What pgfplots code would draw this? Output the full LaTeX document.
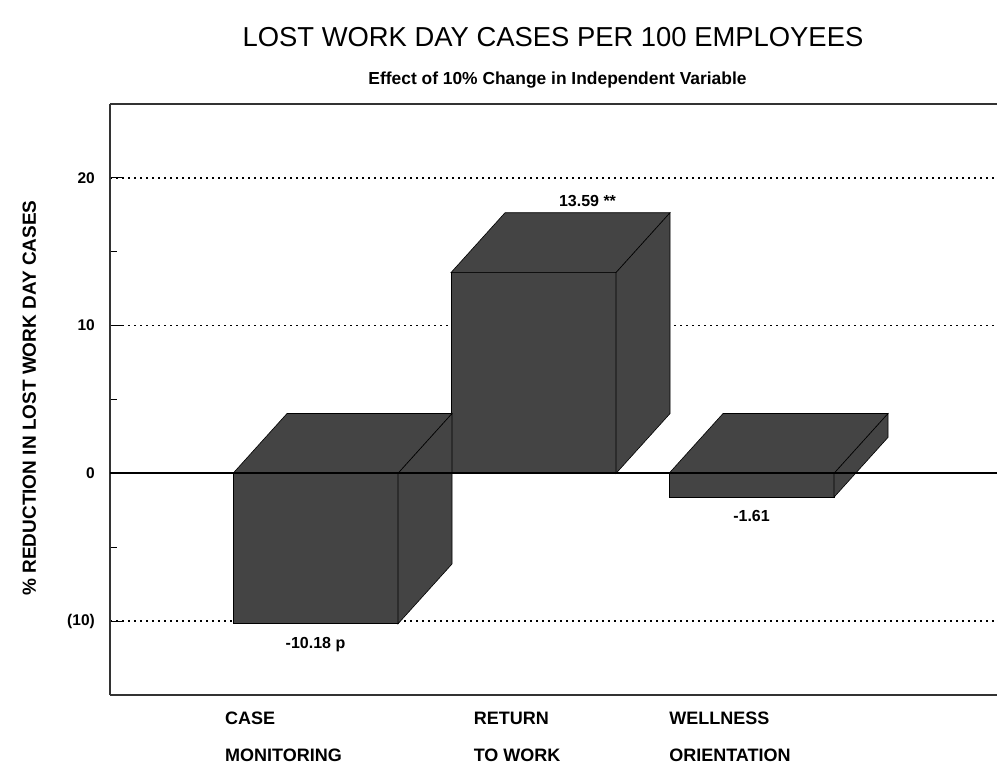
\documentclass[border=0pt]{standalone}
\usepackage{pgfplots}
\pgfplotsset{compat=1.18}
\usepackage{fontspec}
\setmainfont{Liberation Sans}
\definecolor{barfill}{HTML}{444444}
\begin{document}
\begin{tikzpicture}[x=1pt,y=1pt]
\path[use as bounding box] (0,0) rectangle (997,-765);
\begin{axis}[
  at={(110pt,-695pt)}, anchor=south west,
  scale only axis, width=887pt, height=591pt,
  xmin=0.0573, xmax=4.126, ymin=-15, ymax=25,
  axis y line*=left,
  y axis line style={-},
  axis line style={line width=1.4pt, black!80},
  ytick={-10,0,10,20}, yticklabels={(10),0,10,20},
  minor ytick={-5,5,15},
  tick align=inside,
  major tick length=14pt, minor tick length=7pt,
  ytick style={line width=0.8pt, black},
  yticklabel style={font=\fontsize{15.5}{18}\selectfont\bfseries, inner sep=0pt, xshift=-15pt},
  xtick={0.585,1.725,2.622},
  xticklabels={CASE\\MONITORING, RETURN\\TO WORK, WELLNESS\\ORIENTATION},
  xtick style={draw=none},
  xticklabel style={anchor=north west, align=left, font=\fontsize{18}{37}\selectfont\bfseries, inner sep=0pt, yshift=-17pt},
  ymajorgrids,
  grid style={line width=1.5pt, dash pattern=on 1.5pt off 4.5pt, black},
  ylabel={\% REDUCTION IN LOST WORK DAY CASES},
  every axis y label/.style={at={(axis description cs:-0.091,0.5025)}, rotate=90, anchor=center, font=\fontsize{19}{21}\selectfont\bfseries},
  clip=false,
]
% front faces
\addplot[ybar, bar width=0.757, fill=barfill, draw=black, line width=0.6pt] coordinates {(1,-10.18) (2,13.59) (3,-1.61)};
% top faces
\addplot[fill=barfill, draw=black, line width=0.6pt] coordinates {(0.6215,0) (1.3785,0) (1.6262,4.05) (0.8692,4.05)} -- cycle;
\addplot[fill=barfill, draw=black, line width=0.6pt] coordinates {(1.6215,13.59) (2.3785,13.59) (2.6262,17.64) (1.8692,17.64)} -- cycle;
\addplot[fill=barfill, draw=black, line width=0.6pt] coordinates {(2.6215,0) (3.3785,0) (3.6262,4.05) (2.8692,4.05)} -- cycle;
% side faces
\addplot[fill=barfill, draw=black, line width=0.6pt] coordinates {(1.3785,0) (1.6262,4.05) (1.6262,-6.13) (1.3785,-10.18)} -- cycle;
\addplot[fill=barfill, draw=black, line width=0.6pt] coordinates {(2.3785,0) (2.6262,4.05) (2.6262,17.64) (2.3785,13.59)} -- cycle;
\addplot[fill=barfill, draw=black, line width=0.6pt] coordinates {(3.3785,0) (3.6262,4.05) (3.6262,2.44) (3.3785,-1.61)} -- cycle;
% zero line
\addplot[black, line width=1.8pt] coordinates {(0.0573,0) (4.126,0)};
% value labels
\node[anchor=north, inner sep=0pt, yshift=-13pt, font=\fontsize{16}{18}\selectfont\bfseries] at (axis cs:1,-10.18) {-10.18 p};
\node[anchor=base, inner sep=0pt, yshift=6pt, font=\fontsize{16}{18}\selectfont\bfseries] at (axis cs:2.2477,17.64) {13.59 **};
\node[anchor=north, inner sep=0pt, yshift=-13pt, font=\fontsize{16}{18}\selectfont\bfseries] at (axis cs:3,-1.61) {-1.61};
% titles
\node[anchor=center, inner sep=0pt, font=\fontsize{27.4}{30}\selectfont] at (axis description cs:0.4994,1.1134) {LOST WORK DAY CASES PER 100 EMPLOYEES};
\node[anchor=base, inner sep=0pt, font=\fontsize{17.4}{20}\selectfont\bfseries] at (axis description cs:0.5045,1.0338) {Effect of 10\% Change in Independent Variable};
\end{axis}
\end{tikzpicture}
\end{document}
